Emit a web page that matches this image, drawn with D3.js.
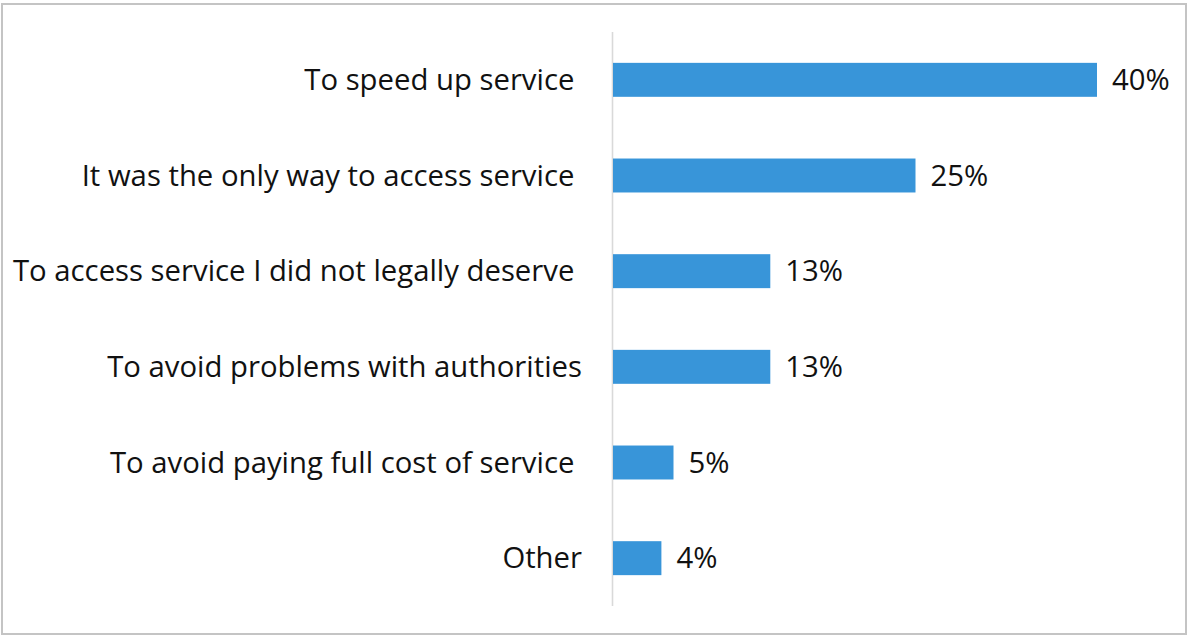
<!DOCTYPE html>
<html>
<head>
<meta charset="utf-8">
<script src="https://cdn.jsdelivr.net/npm/d3@7"></script>
<style>
  html, body { margin: 0; padding: 0; background: #fff; }
  svg { display: block; }
  text { font-family: "Open Sans", sans-serif; fill: #111; }
</style>
</head>
<body>
<svg id="chart" width="1187" height="635"></svg>
<script>
// Reasons given for the payment (share of respondents)
const categories = [
  "To speed up service ",
  "It was the only way to access service ",
  "To access service I did not legally deserve ",
  "To avoid problems with authorities",
  "To avoid paying full cost of service ",
  "Other"
];
const values = [40, 25, 13, 13, 5, 4];
const valueLabels = ["40%", "25%", "13%", "13%", "5%", "4%"];

const data = categories.map((c, i) => ({ cat: c, v: values[i], label: valueLabels[i] }));

const svg = d3.select("#chart");
const W = 1187, H = 635;

// chart frame
svg.append("rect")
  .attr("x", 2).attr("y", 4)
  .attr("width", W - 3).attr("height", H - 5)
  .attr("fill", "#fff")
  .attr("stroke", "#c4c4c4")
  .attr("stroke-width", 2);

const axisX = 612.5;
const y = d3.scaleBand()
  .domain(categories)
  .range([32, 606])
  .paddingInner(0.645)
  .paddingOuter(0.3225);

const x = d3.scaleLinear()
  .domain([0, 40])
  .range([613, 1097]);

// category axis line
svg.append("line")
  .attr("x1", axisX).attr("x2", axisX)
  .attr("y1", 32).attr("y2", 606)
  .attr("stroke", "#d9d9d9")
  .attr("stroke-width", 1.6);

// bars
svg.append("g").selectAll("rect")
  .data(data)
  .join("rect")
  .attr("x", x(0))
  .attr("y", d => y(d.cat))
  .attr("width", d => x(d.v) - x(0))
  .attr("height", y.bandwidth())
  .attr("fill", "#3895d9");

// category labels
svg.append("g").selectAll("text")
  .data(data)
  .join("text")
  .attr("x", 582)
  .attr("y", d => y(d.cat) + y.bandwidth() / 2)
  .attr("dy", "0.35em")
  .attr("text-anchor", "end")
  .style("white-space", "pre")
  .style("font-size", "29.3px")
  .text(d => d.cat);

// value labels
svg.append("g").selectAll("text")
  .data(data)
  .join("text")
  .attr("x", d => x(d.v) + 15)
  .attr("y", d => y(d.cat) + y.bandwidth() / 2)
  .attr("dy", "0.35em")
  .style("font-size", "29.3px")
  .text(d => d.label);
</script>
</body>
</html>
